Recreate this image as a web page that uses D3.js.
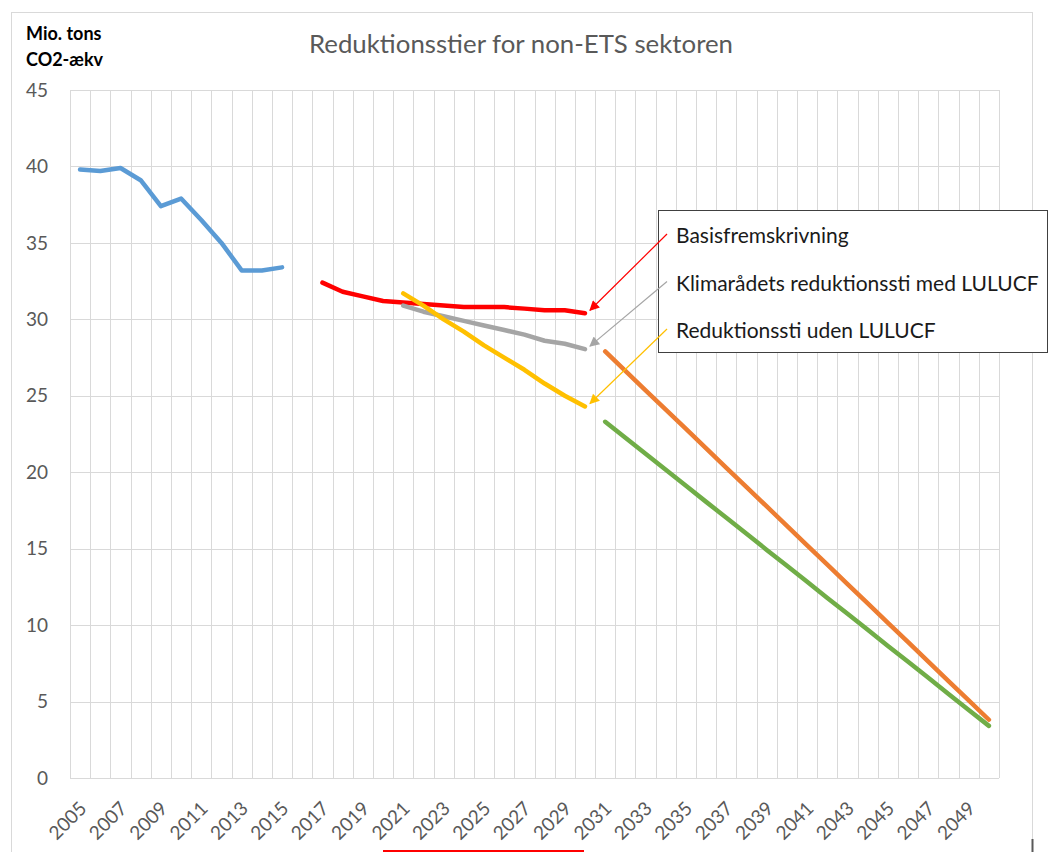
<!DOCTYPE html>
<html>
<head>
<meta charset="utf-8">
<script src="https://cdn.jsdelivr.net/npm/d3@7"></script>
<style>
  body { margin: 0; background: #fff; }
  svg { display: block; font-family: Lato, 'Open Sans', sans-serif; }
</style>
</head>
<body>
<script>
// categories on x axis
const years = d3.range(2005, 2051);
const yTicks = [0, 5, 10, 15, 20, 25, 30, 35, 40, 45];

// series (start year + values)
const historik = { start: 2005, color: '#5b9bd5',
  values: [39.8, 39.7, 39.9, 39.1, 37.4, 37.9, 36.5, 35.0, 33.2, 33.2, 33.4] };
const basis = { start: 2017, color: '#ff0000',
  values: [32.4, 31.8, 31.5, 31.2, 31.1, 31.0, 30.9, 30.8, 30.8, 30.8, 30.7, 30.6, 30.6, 30.4] };
const medLulucf = { start: 2021, color: '#a5a5a5',
  values: [30.9, 30.5, 30.2, 29.9, 29.6, 29.3, 29.0, 28.6, 28.4, 28.05] };
const udenLulucf = { start: 2021, color: '#ffc000',
  values: [31.7, 30.9, 30.0, 29.2, 28.3, 27.5, 26.7, 25.8, 25.0, 24.3] };
const efter2030a = { start: 2031, color: '#ed7d31',
  values: [27.90, 26.63, 25.36, 24.10, 22.83, 21.56, 20.29, 19.02, 17.76, 16.49,
           15.22, 13.95, 12.68, 11.42, 10.15, 8.88, 7.61, 6.34, 5.08, 3.81] };
const efter2030b = { start: 2031, color: '#70ad47',
  values: [23.30, 22.25, 21.21, 20.16, 19.11, 18.06, 17.02, 15.97, 14.92, 13.88,
           12.83, 11.78, 10.74, 9.69, 8.64, 7.60, 6.55, 5.50, 4.45, 3.41] };

const series = [historik, basis, medLulucf, udenLulucf, efter2030a, efter2030b];

const legendItems = [
  { label: 'Basisfremskrivning', s: basis, color: '#ff0000' },
  { label: 'Klimarådets reduktionssti med LULUCF', s: medLulucf, color: '#a5a5a5' },
  { label: 'Reduktionssti uden LULUCF', s: udenLulucf, color: '#ffc000' }
];

const W = 1049, H = 852;
const svg = d3.select('body').append('svg').attr('width', W).attr('height', H);

// outer chart frame
svg.append('rect')
  .attr('x', 11.5).attr('y', 12.5)
  .attr('width', 1021).attr('height', 900)
  .attr('fill', 'none').attr('stroke', '#d9d9d9');
svg.append('line')
  .attr('x1', 1032.5).attr('x2', 1032.5).attr('y1', 839).attr('y2', 852)
  .attr('stroke', '#595959').attr('stroke-width', 2);

const x = d3.scaleBand().domain(years).range([70, 999]).paddingInner(0).paddingOuter(0);
const y = d3.scaleLinear().domain([0, 45]).range([778, 90]);
const cx = (yr) => x(yr) + x.bandwidth() / 2;

// grid
const grid = svg.append('g').attr('stroke', '#d9d9d9').attr('stroke-width', 1);
grid.selectAll('.vg').data(years.concat([2051]))
  .enter().append('line')
  .attr('x1', (d) => Math.round(d === 2051 ? 999 : x(d)) + 0.5)
  .attr('x2', (d) => Math.round(d === 2051 ? 999 : x(d)) + 0.5)
  .attr('y1', y(45)).attr('y2', y(0));
grid.selectAll('.hg').data(yTicks)
  .enter().append('line')
  .attr('x1', 70).attr('x2', 999)
  .attr('y1', (d) => Math.round(y(d)) + 0.5)
  .attr('y2', (d) => Math.round(y(d)) + 0.5);

// y tick labels
svg.append('g').selectAll('text').data(yTicks)
  .enter().append('text')
  .attr('x', 48).attr('y', (d) => y(d))
  .attr('dy', '0.35em')
  .attr('text-anchor', 'end')
  .attr('fill', '#595959')
  .style('font-size', '19px')
  .text((d) => d);

// x tick labels, every second year
svg.append('g').selectAll('text').data(years.filter((d) => (d - 2005) % 2 === 0 && d < 2050))
  .enter().append('text')
  .attr('transform', (d) => `translate(${cx(d) + 3},${805}) rotate(-45)`)
  .attr('text-anchor', 'end')
  .attr('dy', '0.35em')
  .attr('fill', '#595959')
  .style('font-size', '19px')
  .text((d) => d);

// lines
const line = d3.line()
  .x((d) => cx(d.year))
  .y((d) => y(d.v));

svg.append('g').selectAll('path').data(series)
  .enter().append('path')
  .attr('d', (s) => line(s.values.map((v, i) => ({ year: s.start + i, v: v }))))
  .attr('fill', 'none')
  .attr('stroke', (s) => s.color)
  .attr('stroke-width', 4.5)
  .attr('stroke-linejoin', 'round')
  .attr('stroke-linecap', 'round');

// title
svg.append('text')
  .attr('x', 521).attr('y', 53)
  .attr('text-anchor', 'middle')
  .attr('fill', '#595959')
  .style('font-size', '25.8px')
  .text('Reduktionsstier for non-ETS sektoren');

// axis unit
const unit = svg.append('text')
  .attr('fill', '#000')
  .style('font-size', '18px')
  .style('font-weight', 'bold');
unit.append('tspan').attr('x', 26).attr('y', 40).text('Mio. tons');
unit.append('tspan').attr('x', 26).attr('y', 66).text('CO2-ækv');

// annotation box
const boxX = 658, boxY = 210;
svg.append('rect')
  .attr('x', boxX + 0.5).attr('y', boxY + 0.5)
  .attr('width', 389).attr('height', 142)
  .attr('fill', '#fff')
  .attr('stroke', '#404040');

const defs = svg.append('defs');
legendItems.forEach((it, i) => {
  defs.append('marker')
    .attr('id', 'arr' + i)
    .attr('viewBox', '0 0 10 10')
    .attr('refX', 9).attr('refY', 5)
    .attr('markerWidth', 12).attr('markerHeight', 10)
    .attr('markerUnits', 'userSpaceOnUse')
    .attr('orient', 'auto')
    .append('path')
    .attr('d', 'M0,0 L10,5 L0,10 z')
    .attr('fill', it.color);
});

legendItems.forEach((it, i) => {
  const ty = boxY + 33 + i * 47.5;
  svg.append('text')
    .attr('x', boxX + 18).attr('y', ty)
    .attr('fill', '#1a1a1a')
    .style('font-size', '21px')
    .text(it.label);
  const last = it.s.values[it.s.values.length - 1];
  const lastYear = it.s.start + it.s.values.length - 1;
  svg.append('line')
    .attr('x1', boxX + 9).attr('y1', ty - 9)
    .attr('x2', cx(lastYear) + 5).attr('y2', y(last) - 3)
    .attr('stroke', it.color)
    .attr('stroke-width', 1.2)
    .attr('marker-end', `url(#arr${i})`);
});

// red mark at bottom edge
svg.append('line')
  .attr('x1', 383).attr('x2', 584).attr('y1', 851).attr('y2', 851)
  .attr('stroke', '#ff0000').attr('stroke-width', 2);
</script>
</body>
</html>
